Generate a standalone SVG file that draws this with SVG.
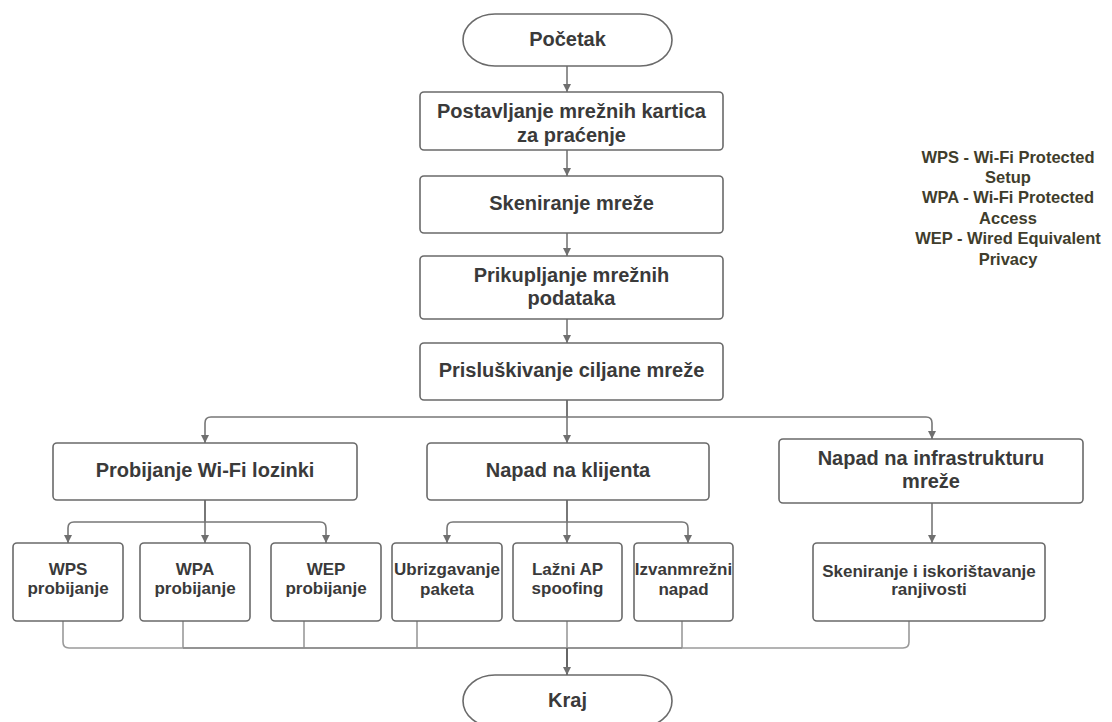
<svg xmlns="http://www.w3.org/2000/svg" width="1112" height="722" viewBox="0 0 1112 722">
<defs>
<marker id="arr" viewBox="0 0 8 10" refX="8" refY="5" markerWidth="8" markerHeight="10" markerUnits="userSpaceOnUse" orient="auto">
<path d="M0,1 L8,5 L0,9 Z" fill="#6f6f6f"/>
</marker>
<style>
.box{fill:#fff;stroke:#6a6a6a;stroke-width:1.6}
.t{font-family:"Liberation Sans",Arial,sans-serif;font-weight:bold;fill:#3a3a3a;text-anchor:middle}
.big{font-size:20px}
.sm{font-size:17px}
.leg{font-family:"Liberation Sans",Arial,sans-serif;font-weight:bold;fill:#403d2c;text-anchor:middle;font-size:16.5px}
.c{fill:none;stroke:#777;stroke-width:1.6}
.a{marker-end:url(#arr)}
.lc{fill:none;stroke:#9a9a9a;stroke-width:1.6}
</style>
</defs>
<rect width="1112" height="722" fill="#fff"/>
<g id="connectors">
<path class="c a" d="M567,66 V92"/>
<path class="c a" d="M567,150 V176"/>
<path class="c a" d="M567,233 V256"/>
<path class="c a" d="M567,319 V343"/>
<path class="c a" d="M567,400 V417 H211 Q205,417 205,423 V443"/>
<path class="c a" d="M567,400 V443"/>
<path class="c a" d="M567,400 V417 H926 Q932,417 932,423 V439"/>
<path class="c a" d="M205,500 V522 H74 Q68,522 68,528 V543"/>
<path class="c a" d="M205,500 V543"/>
<path class="c a" d="M205,500 V522 H320 Q326,522 326,528 V543"/>
<path class="c a" d="M567,500 V522 H453 Q447,522 447,528 V543"/>
<path class="c a" d="M567,500 V543"/>
<path class="c a" d="M567,500 V522 H682 Q688,522 688,528 V543"/>
<path class="c a" d="M932,503 V543"/>
<path class="lc" d="M63,621 V642 Q63,648 69,648 H567"/>
<path class="lc" d="M183,621 V648"/>
<path class="lc" d="M304,621 V648"/>
<path class="lc" d="M417,621 V648"/>
<path class="lc" d="M567,621 V648"/>
<path class="lc" d="M682,621 V648"/>
<path class="lc" d="M909,621 V642 Q909,648 903,648 H567"/>
<path class="c" d="M183,648 H682" style="stroke:#8a8a8a"/>
<path class="c a" d="M567,648 V675" style="stroke:#666;stroke-width:2"/>
</g>
<g id="pocetak">
<rect class="box" x="463" y="14" width="209" height="52" rx="32" ry="26"/>
<text class="t big" x="567.5" y="46">Početak</text>
</g>
<g id="postavljanje">
<rect class="box" x="420" y="92" width="303" height="58" rx="4"/>
<text class="t big" x="571.5" y="118">Postavljanje mrežnih kartica</text>
<text class="t big" x="571.5" y="142">za praćenje</text>
</g>
<g id="skeniranje-mreze">
<rect class="box" x="420" y="176" width="303" height="57" rx="4"/>
<text class="t big" x="571.5" y="210">Skeniranje mreže</text>
</g>
<g id="prikupljanje">
<rect class="box" x="420" y="256" width="303" height="63" rx="4"/>
<text class="t big" x="571.5" y="282">Prikupljanje mrežnih</text>
<text class="t big" x="571.5" y="305">podataka</text>
</g>
<g id="prisluskivanje">
<rect class="box" x="420" y="343" width="303" height="57" rx="4"/>
<text class="t big" x="571.5" y="377">Prisluškivanje ciljane mreže</text>
</g>
<g id="probijanje">
<rect class="box" x="53" y="443" width="304" height="57" rx="4"/>
<text class="t big" x="205" y="477">Probijanje Wi-Fi lozinki</text>
</g>
<g id="napad-klijent">
<rect class="box" x="427" y="443" width="282" height="57" rx="4"/>
<text class="t big" x="568" y="477">Napad na klijenta</text>
</g>
<g id="napad-infra">
<rect class="box" x="779" y="439" width="304" height="64" rx="4"/>
<text class="t big" x="931" y="465">Napad na infrastrukturu</text>
<text class="t big" x="931" y="488">mreže</text>
</g>
<g id="wps">
<rect class="box" x="13" y="543" width="110" height="78" rx="4"/>
<text class="t sm" x="68" y="575">WPS</text>
<text class="t sm" x="68" y="594">probijanje</text>
</g>
<g id="wpa">
<rect class="box" x="140" y="543" width="110" height="78" rx="4"/>
<text class="t sm" x="195" y="575">WPA</text>
<text class="t sm" x="195" y="594">probijanje</text>
</g>
<g id="wep">
<rect class="box" x="271" y="543" width="110" height="78" rx="4"/>
<text class="t sm" x="326" y="575">WEP</text>
<text class="t sm" x="326" y="594">probijanje</text>
</g>
<g id="ubrizgavanje">
<rect class="box" x="392" y="543" width="110" height="78" rx="4"/>
<text class="t sm" x="447" y="575">Ubrizgavanje</text>
<text class="t sm" x="447" y="595">paketa</text>
</g>
<g id="lazni-ap">
<rect class="box" x="513" y="543" width="109" height="78" rx="4"/>
<text class="t sm" x="567.5" y="575">Lažni AP</text>
<text class="t sm" x="567.5" y="594">spoofing</text>
</g>
<g id="izvanmrezni">
<rect class="box" x="634" y="543" width="99" height="78" rx="4"/>
<text class="t sm" x="683.5" y="575">Izvanmrežni</text>
<text class="t sm" x="683.5" y="595">napad</text>
</g>
<g id="skeniranje-ranjivosti">
<rect class="box" x="813" y="543" width="232" height="78" rx="4"/>
<text class="t sm" x="929" y="577">Skeniranje i iskorištavanje</text>
<text class="t sm" x="929" y="595">ranjivosti</text>
</g>
<g id="kraj">
<rect class="box" x="463" y="675" width="209" height="52" rx="32" ry="26"/>
<text class="t big" x="567.5" y="707">Kraj</text>
</g>
<g id="legenda">
<text class="leg" x="1008" y="163">WPS - Wi-Fi Protected</text>
<text class="leg" x="1008" y="183">Setup</text>
<text class="leg" x="1008" y="203">WPA - Wi-Fi Protected</text>
<text class="leg" x="1008" y="224">Access</text>
<text class="leg" x="1008" y="244">WEP - Wired Equivalent</text>
<text class="leg" x="1008" y="265">Privacy</text>
</g>
</svg>
